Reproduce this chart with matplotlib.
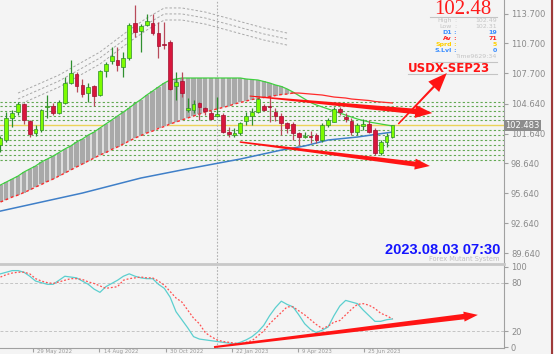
import numpy as np
import matplotlib.pyplot as plt
from matplotlib.patches import Polygon
from matplotlib.transforms import IdentityTransform

# weekly USDX bars (open, high, low, close)
opens = [100.50, 101.00, 103.21, 103.81, 104.62, 102.91, 101.70, 102.01, 104.32, 104.42,
         103.71, 104.72, 106.73, 107.63, 106.53, 105.72, 106.43, 105.52, 107.93, 108.94,
         109.04, 108.34, 109.24, 112.76, 111.95, 112.56, 112.76, 111.75, 110.65, 110.85,
         106.43, 106.93, 104.02, 104.02, 104.72, 104.22, 103.71, 103.41, 103.51, 101.80,
         101.50, 101.70, 102.91, 103.41, 103.81, 104.42, 104.35, 103.81, 103.41, 102.71,
         102.61, 101.70, 101.30, 101.40, 101.50, 101.00, 102.51, 102.81, 104.12, 103.31,
         102.91, 101.80, 102.41, 102.61, 102.00, 99.69, 100.80, 101.30]
highs = [101.40, 103.81, 104.02, 104.82, 104.72, 103.01, 102.51, 104.12, 105.52, 104.72,
         105.02, 107.33, 109.04, 107.83, 107.13, 106.73, 106.50, 108.03, 108.84, 110.35,
         110.35, 109.84, 112.76, 114.57, 112.66, 113.66, 113.66, 112.86, 112.86, 111.05,
         107.83, 107.83, 105.22, 105.02, 104.82, 104.32, 104.02, 105.32, 103.71, 102.31,
         102.21, 102.81, 103.81, 104.22, 105.22, 104.62, 105.42, 104.22, 103.71, 102.81,
         102.81, 101.80, 101.80, 101.90, 101.70, 102.71, 103.21, 104.32, 104.32, 103.71,
         103.21, 102.71, 103.11, 103.01, 102.21, 101.00, 101.70, 102.49]
lows = [99.79, 100.80, 102.31, 103.51, 102.61, 101.30, 101.40, 101.80, 103.21, 103.51,
        103.61, 104.62, 106.63, 105.82, 105.32, 104.82, 104.42, 105.42, 107.33, 108.64,
        107.93, 107.33, 109.04, 111.35, 109.84, 112.46, 111.55, 109.24, 110.15, 106.03,
        105.02, 105.32, 103.81, 103.71, 103.01, 103.51, 103.01, 103.31, 101.70, 101.30,
        101.30, 101.50, 102.51, 102.51, 103.71, 103.91, 102.81, 102.91, 101.50, 101.70,
        101.00, 100.50, 101.20, 100.70, 100.70, 100.80, 102.31, 102.81, 103.51, 102.81,
        101.50, 101.50, 102.00, 101.75, 99.49, 99.49, 100.30, 101.20]
closes = [101.20, 103.21, 103.71, 104.62, 103.01, 101.60, 102.11, 104.02, 104.42, 103.71,
          104.82, 106.73, 107.73, 106.43, 105.62, 106.33, 105.42, 107.93, 108.64, 109.44,
          108.54, 109.24, 112.56, 111.85, 112.46, 112.96, 111.75, 110.45, 110.55, 106.13,
          106.83, 105.72, 104.22, 104.62, 104.32, 103.91, 103.11, 103.61, 101.80, 101.60,
          101.70, 102.71, 103.41, 103.81, 105.12, 104.02, 104.30, 103.41, 102.71, 102.21,
          101.70, 101.30, 101.40, 101.30, 101.00, 102.51, 103.01, 104.12, 103.81, 103.11,
          101.80, 102.51, 102.61, 101.80, 99.69, 100.80, 101.40, 102.48]

# moving averages forming the cloud
ma_fast = [96.48, 96.78, 97.08, 97.38, 97.78, 98.09, 98.39, 98.79, 99.09, 99.39,
           99.74, 100.10, 100.40, 100.80, 101.10, 101.50, 101.80, 102.21, 102.61, 103.01,
           103.41, 103.81, 104.22, 104.67, 105.07, 105.52, 105.92, 106.33, 106.73, 107.03,
           107.13, 107.23, 107.23, 107.23, 107.23, 107.23, 107.23, 107.23, 107.23, 107.23,
           107.23, 107.23, 107.13, 107.08, 107.03, 106.88, 106.73, 106.53, 106.38, 106.13,
           105.82, 105.47, 105.12, 104.77, 104.52, 104.32, 104.12, 103.91, 103.71, 103.51,
           103.31, 103.11, 102.96, 102.81, 102.71, 102.61, 102.51, 102.41]
ma_slow = [94.77, 95.02, 95.27, 95.47, 95.72, 95.98, 96.28, 96.53, 96.83, 97.08,
           97.38, 97.68, 97.99, 98.29, 98.59, 98.89, 99.19, 99.49, 99.74, 100.05,
           100.30, 100.60, 100.90, 101.20, 101.45, 101.70, 101.90, 102.16, 102.36, 102.61,
           102.81, 103.01, 103.21, 103.41, 103.61, 103.81, 103.97, 104.12, 104.27, 104.42,
           104.62, 104.77, 104.92, 105.07, 105.17, 105.27, 105.37, 105.47, 105.57, 105.62,
           105.72, 105.72, 105.67, 105.62, 105.57, 105.52, 105.42, 105.32, 105.27, 105.22,
           105.12, 105.07, 105.02, 104.97, 104.87, 104.82, 104.77, 104.72]
# long MA (blue)
blue_idx = [0, 14, 24, 31, 41, 48, 52, 56, 61, 67]
blue_val = [93.86, 95.67, 97.18, 97.99, 99.09, 99.99, 100.40, 101.00, 101.30, 101.80]

# upper envelope bands (grey dashed)
band_idx = [3, 10, 17, 22, 25, 28, 31, 35, 40, 45, 49]
band_top = [105.72, 107.53, 109.84, 112.06, 113.26, 114.27, 114.27, 113.86, 113.06, 112.26, 111.75]
band_mid = [105.12, 106.93, 109.24, 111.46, 112.66, 113.67, 113.67, 113.26, 112.46, 111.66, 111.15]
band_low = [104.51, 106.32, 108.63, 110.85, 112.05, 113.06, 113.06, 112.65, 111.85, 111.05, 110.54]

levels = [104.85, 104.42, 103.95, 103.46, 103.01, 102.00, 101.50, 101.00, 100.50, 99.99, 99.49, 98.99]
last_price = 102.483

# stochastic
stoch_k = [91, 93, 95, 95, 93, 88, 82, 80, 78, 78, 83, 88, 87, 86, 82, 78, 72, 68, 75, 79,
           83, 88, 91, 88, 86, 85, 85, 78, 73, 62, 44, 34, 24, 13, 10, 9, 8, 7, 6, 5,
           4, 6, 9, 13, 19, 27, 39, 49, 57, 53, 50, 40, 29, 22, 18, 21, 25, 39, 51, 58,
           56, 54, 46, 39, 32, 32, 34, 35]
stoch_d = [87, 90, 92, 93, 93, 91, 85, 82, 80, 79, 81, 83, 85, 85, 84, 81, 79, 76, 73, 74,
           75, 83, 85, 86, 87, 86, 86, 82, 77, 69, 61, 56, 46, 36, 29, 18, 13, 9, 7, 6,
           5, 4, 6, 8, 14, 20, 29, 36, 43, 50, 50, 45, 40, 34, 28, 23, 26, 31, 33, 40,
           47, 53, 54, 52, 48, 42, 39, 35]

price_ticks = [113.7, 110.7, 107.7, 104.64, 101.64, 98.64, 95.64, 92.64, 89.64]
date_ticks = [5.6, 16.9, 28.3, 39.6, 50.9, 62.1]
date_labels = ['29 May 2022', '14 Aug 2022', '30 Oct 2022', '22 Jan 2023', '9 Apr 2023', '25 Jun 2023']
year_sep = 37

W, H = 554, 354
BG = '#f4f4f4'
fig = plt.figure(figsize=(W / 100, H / 100), dpi=100, facecolor=BG)


def fx(x):
    return x / W


def fy(y):
    return 1 - y / H


ax = fig.add_axes([0, fy(263), fx(504), 263 / H], facecolor=BG)
ax2 = fig.add_axes([0, fy(348), fx(504), 84 / H], facecolor=BG)
xlim = (-0.085, 86.07)
ax.set_xlim(*xlim)
ax.set_ylim(88.64, 115.07)
ax2.set_xlim(*xlim)
ax2.set_ylim(-1.1, 103.2)

n = len(opens)
idx = np.arange(n)
o, h, l, c = map(np.array, (opens, highs, lows, closes))
fast, slow = np.array(ma_fast), np.array(ma_slow)

# level lines
for lv in levels:
    ax.axhline(lv, color='#62a852', lw=0.8, ls=(0, (2, 2)), zorder=1)
ax.axhline(last_price, color='#ecd35a', lw=1.0, zorder=1)
for a in (ax, ax2):
    a.axvline(year_sep, color='#b0b0b0', lw=0.8, ls=(0, (1.5, 1.5)), zorder=1)

# cloud
up = fast > slow
ax.fill_between(idx, slow, fast, where=up, interpolate=True, color='#dedede', lw=0, zorder=2)
ax.bar(idx[up], (fast - slow)[up], bottom=slow[up], width=0.72, color='#a9a9a9', lw=0, zorder=2)
ax.plot(idx, fast, color='#3fcf3f', lw=0.9, zorder=3)
ax.plot(idx[:51], slow[:51], color='#ff2a2a', lw=1.0, ls=(0, (2, 2)), zorder=3)
ax.plot(idx[50:], slow[50:], color='#ff2a2a', lw=0.9, zorder=3)
ax.plot(blue_idx, blue_val, color='#3f7fc8', lw=1.1, zorder=3)
for band in (band_top, band_mid, band_low):
    ax.plot(band_idx, band, color='#a8a8a8', lw=0.7, ls=(0, (2.5, 2)), zorder=2)

# candles
bull = c >= o
wick_col = np.where(bull, '#2f8f2f', '#b84a5a')
ax.vlines(idx, l, h, colors=wick_col, lw=0.9, zorder=4)
body_lo = np.minimum(o, c)
body_h = np.maximum(np.abs(c - o), 0.08)
ax.bar(idx[bull], body_h[bull], bottom=body_lo[bull], width=0.64,
       color='#7cfc00', edgecolor='#2e8b2e', lw=0.5, zorder=5)
ax.bar(idx[~bull], body_h[~bull], bottom=body_lo[~bull], width=0.64,
       color='#d8163c', edgecolor='#a01030', lw=0.5, zorder=5)

# stochastic panel
ax2.plot(idx, stoch_k, color='#5ccfcf', lw=0.9, zorder=3)
ax2.plot(idx, stoch_d, color='#ff5050', lw=0.9, ls=(0, (1.5, 1.5)), zorder=3)
for g in (20, 80):
    ax2.axhline(g, color='#c4c4c4', lw=0.7, ls=(0, (3, 2)), zorder=1)

# axes styling
for a in (ax, ax2):
    for s in ('left', 'top', 'bottom'):
        a.spines[s].set_visible(False)
    a.spines['right'].set_color('#a0a0a0')
    a.yaxis.tick_right()
    a.tick_params(axis='y', labelsize=6, colors='#a0a0a0', labelcolor='#8a8a8a', length=3, pad=2)
ax.set_xticks([])
ax.set_yticks(price_ticks)
ax.set_yticklabels(['%.3f' % v for v in price_ticks])
ax2.set_yticks([100, 80, 20, 0])
ax2.set_yticklabels(['100', '80', '20', '0'])
ax2.spines['bottom'].set_visible(True)
ax2.spines['bottom'].set_color('#a0a0a0')
ax2.set_xticks(date_ticks)
ax2.set_xticklabels([])
ax2.tick_params(axis='x', length=3, colors='#a0a0a0')
for t, lab in zip(date_ticks, date_labels):
    ax2.annotate(lab, (t, 0), xycoords=('data', 'axes fraction'), xytext=(3, -0.9),
                 textcoords='offset points', fontsize=3.9, color='#9a9a9a', va='top', ha='left',
                 annotation_clip=False)

ax.text(1.003, last_price, '%.3f' % last_price, transform=ax.get_yaxis_transform(),
        fontsize=6, color='white', va='center', ha='left',
        bbox=dict(boxstyle='square,pad=0.15', fc='#8c8c8c', ec='none'), clip_on=False, zorder=20)

# panel separator and right border
fig.add_artist(plt.Line2D([0, fx(504)], [fy(263.5), fy(263.5)], color='#c8c8c8', lw=2))
fig.add_artist(plt.Line2D([fx(551.5), fx(551.5)], [0, 1], color='#9e3a3a', lw=1.5))


def red_arrow(a, p0, p1, w0, w1, head_w, head_len):
    t = a.transData
    s = np.array(t.transform(p0))
    e = np.array(t.transform(p1))
    d = (e - s) / np.hypot(*(e - s))
    nrm = np.array([-d[1], d[0]])
    b = e - d * head_len
    pts = [s + nrm * w0 / 2, b + nrm * w1 / 2, b + nrm * head_w / 2, e,
           b - nrm * head_w / 2, b - nrm * w1 / 2, s - nrm * w0 / 2]
    fig.add_artist(Polygon(pts, closed=True, transform=IdentityTransform(),
                           fc='#ff1414', ec='none', zorder=10))


red_arrow(ax, (42.6, 105.42), (73.8, 103.71), 1.0, 5.5, 13, 17)
red_arrow(ax, (40.9, 100.80), (73.4, 98.39), 1.5, 5, 11, 15)
red_arrow(ax, (68.0, 102.61), (76.3, 107.73), 1.5, 2.2, 15, 19)
red_arrow(ax2, (36.5, 0), (81.6, 40), 2, 5.5, 10, 14)

# info block
fig.text(fx(463), fy(9), '102.48', color='#ff1a1a', fontsize=15,
         family='Liberation Serif', ha='center', va='center')
for yy, x0 in ((16.5, 430), (62, 432), (73.5, 408)):
    fig.add_artist(plt.Line2D([fx(x0), fx(497)], [fy(yy), fy(yy)], color='#c4c4c4', lw=0.8))
rows = [('High', '102.49', '#c4c4c4', 'normal', 20.5),
        ('Low', '102.31', '#c4c4c4', 'normal', 26.5),
        ('D1', '19', '#3a8dff', 'bold', 32.5),
        ('Av', '71', '#ff2020', 'bold', 38.5),
        ('Sprd', '5', '#ffd000', 'bold', 44.5),
        ('S.Lvl', '0', '#3a8dff', 'bold', 50.5)]
for lab, val, col, wt, yy in rows:
    fig.text(fx(452), fy(yy), lab, color=col, fontsize=4.5, weight=wt, ha='right', va='center')
    fig.text(fx(455), fy(yy), ':', color=col, fontsize=4.5, weight=wt, ha='center', va='center')
    fig.text(fx(497), fy(yy), val, color=col, fontsize=4.5, weight=wt, ha='right', va='center')
fig.text(fx(497), fy(56.5), 'Time9629:34', color='#c4c4c4', fontsize=4.5, ha='right', va='center')
fig.text(fx(449), fy(68), 'USDX-SEP23', color='#ff1414', fontsize=8.5, weight='bold',
         ha='center', va='center')

fig.text(fx(500), fy(250), '2023.08.03 07:30', color='#1414ff', fontsize=10.5, weight='bold',
         family='Liberation Sans', ha='right', va='center')
fig.text(fx(500), fy(258.5), 'Forex Mutant System', color='#c0c0c0', fontsize=4.8,
         ha='right', va='center')

fig.savefig('out.png', dpi=100, facecolor=BG)
